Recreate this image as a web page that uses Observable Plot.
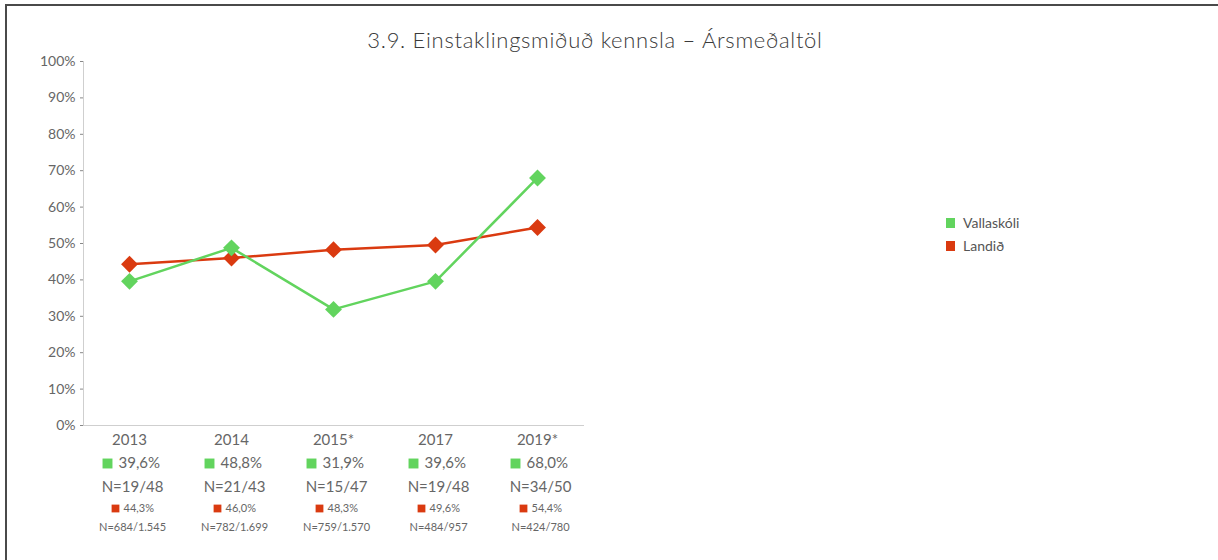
<!DOCTYPE html>
<html>
<head>
<meta charset="utf-8">
<script src="https://cdn.jsdelivr.net/npm/d3@7"></script>
<script src="https://cdn.jsdelivr.net/npm/@observablehq/plot@0.6"></script>
<style>
  html, body { margin: 0; padding: 0; background: #fff; }
  #wrap { position: relative; width: 1218px; height: 560px; overflow: hidden; font-family: Lato, "Open Sans", sans-serif; }
  #border { position: absolute; left: 5px; top: 4px; width: 1230px; height: 600px; border-top: 2px solid #4a4a4a; border-left: 2px solid #4a4a4a; }
  #title { position: absolute; left: 0; width: 1190px; top: 26px; text-align: center; font-size: 22px; font-weight: 300; letter-spacing: 0.7px; color: #3a3a3a; line-height: 28px; }
  #legend { position: absolute; left: 946px; top: 211px; font-size: 14px; color: #555; }
  #legend div { height: 23px; line-height: 18px; display: flex; align-items: center; }
  #legend span.sw { display: inline-block; width: 9px; height: 10px; margin-right: 8px; }
  #chart { position: absolute; left: 0; top: 0; }
</style>
</head>
<body>
<div id="wrap">
  <div id="chart"></div>
  <div id="border"></div>
  <div id="title">3.9. Einstaklingsmiðuð kennsla – Ársmeðaltöl</div>
  <div id="legend"></div>
</div>
<script>
const years = ["2013", "2014", "2015*", "2017", "2019*"];
const vallaskoli = [39.6, 48.8, 31.9, 39.6, 68.0];
const landid = [44.3, 46.0, 48.3, 49.6, 54.4];
const vallaskoliN = ["19/48", "21/43", "15/47", "19/48", "34/50"];
const landidN = ["684/1.545", "782/1.699", "759/1.570", "484/957", "424/780"];
const seriesNames = ["Vallaskóli", "Landið"];
const colors = ["#62d45e", "#da3a10"];

const fmt = v => v.toFixed(1).replace(".", ",") + "%";
const vRows = years.map((y, i) => ({year: y, value: vallaskoli[i] / 100, label: fmt(vallaskoli[i]), n: "N=" + vallaskoliN[i]}));
const lRows = years.map((y, i) => ({year: y, value: landid[i] / 100, label: fmt(landid[i]), n: "N=" + landidN[i]}));

const gray = "#666";
const chart = Plot.plot({
  width: 1218,
  height: 560,
  marginLeft: 83,
  marginRight: 635,
  marginTop: 61,
  marginBottom: 135,
  style: {fontFamily: "Lato, 'Open Sans', sans-serif", background: "transparent"},
  x: {type: "point", domain: years, padding: 0.44, label: null},
  y: {domain: [0, 1], label: null},
  marks: [
    Plot.frame({anchor: "left", stroke: "#cfcfcf"}),
    Plot.frame({anchor: "bottom", stroke: "#cfcfcf"}),
    Plot.axisY({ticks: d3.range(0, 1.01, 0.1), tickFormat: d => Math.round(d * 100) + "%", tickSize: 3, tickPadding: 5, fontSize: 14, color: gray, stroke: "#888", label: null}),
    Plot.axisX({tickSize: 0, tickPadding: 9, fontSize: 15, color: gray, label: null}),
    Plot.line(lRows, {x: "year", y: "value", stroke: colors[1], strokeWidth: 2.5}),
    Plot.dot(lRows, {x: "year", y: "value", symbol: "diamond2", r: 7.6, fill: colors[1]}),
    Plot.line(vRows, {x: "year", y: "value", stroke: colors[0], strokeWidth: 2.5}),
    Plot.dot(vRows, {x: "year", y: "value", symbol: "diamond2", r: 7.6, fill: colors[0]}),
    // summary rows below the axis
    Plot.dot(vRows, {x: "year", frameAnchor: "bottom", dy: 38, dx: -22, symbol: "square", r: 5.6, fill: colors[0]}),
    Plot.text(vRows, {x: "year", text: "label", frameAnchor: "bottom", dy: 38, dx: -11, textAnchor: "start", lineAnchor: "middle", fontSize: 15, fill: gray}),
    Plot.text(vRows, {x: "year", text: "n", frameAnchor: "bottom", dy: 62, dx: 3, lineAnchor: "middle", fontSize: 15, fill: gray}),
    Plot.dot(lRows, {x: "year", frameAnchor: "bottom", dy: 83, dx: -14, symbol: "square", r: 4.4, fill: colors[1]}),
    Plot.text(lRows, {x: "year", text: "label", frameAnchor: "bottom", dy: 83, dx: -6, textAnchor: "start", lineAnchor: "middle", fontSize: 11, fill: gray}),
    Plot.text(lRows, {x: "year", text: "n", frameAnchor: "bottom", dy: 102, dx: 3, lineAnchor: "middle", fontSize: 11, fill: gray})
  ]
});
document.getElementById("chart").appendChild(chart);

const legend = document.getElementById("legend");
seriesNames.forEach((name, i) => {
  const row = document.createElement("div");
  const sw = document.createElement("span");
  sw.className = "sw";
  sw.style.background = colors[i];
  row.appendChild(sw);
  row.appendChild(document.createTextNode(name));
  legend.appendChild(row);
});
</script>
</body>
</html>
